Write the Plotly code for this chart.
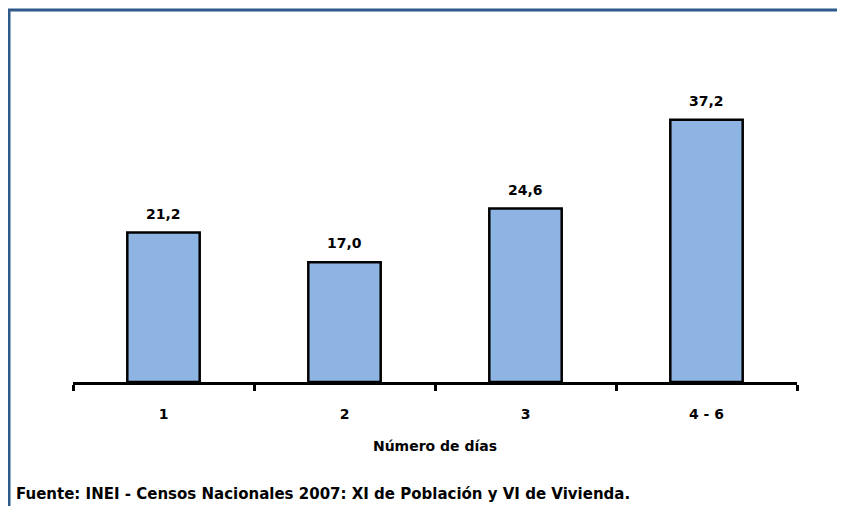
import plotly.graph_objects as go

# data
categories = ['1', '2', '3', '4 - 6']
values = [21.2, 17.0, 24.6, 37.2]
x_title = 'Número de días'
source = 'Fuente: INEI - Censos Nacionales 2007: XI de Población y VI de Vivienda.'

FONT = 'DejaVu Sans, Arial, sans-serif'
FRAME = '#2F5A8C'

# the page puts the figure 8px in from the top-left corner
OFF = 8
# target plot area in window pixels: x 73..797, y 100..382
W, H = 845, 506
L, T = 73 - OFF, 100 - OFF
pw, ph = 724, 282
R, B = W - L - pw, H - T - ph


def px(x):
    return (x - OFF - L) / pw


def py(y):
    return (T + ph - (y - OFF)) / ph


labels = [f'{v:.1f}'.replace('.', ',') for v in values]

fig = go.Figure(go.Bar(
    x=categories, y=values,
    marker=dict(color='#8EB4E3', line=dict(color='black', width=2.5)),
    hoverinfo='skip',
))

# value labels above the bars (category axis: position by index)
for i, (v, t) in enumerate(zip(values, labels)):
    fig.add_annotation(
        x=i, y=v, text=t, showarrow=False, yanchor='bottom', yshift=9,
        font=dict(family=FONT, size=14, color='black', weight='bold'),
    )

fig.update_layout(
    width=W, height=H,
    margin=dict(l=L, r=R, t=T, b=B),
    paper_bgcolor='white', plot_bgcolor='white',
    bargap=0.6, showlegend=False,
    font=dict(family=FONT, color='black'),
)
fig.update_xaxes(
    type='category', showline=True, linecolor='black', linewidth=2.5,
    ticks='outside', tickson='boundaries', ticklen=6, tickwidth=2.5, tickcolor='black',
    tickfont=dict(family=FONT, size=14, weight='bold'), ticklabelstandoff=17,
    title=dict(text=x_title, standoff=21, font=dict(family=FONT, size=14, weight='bold')),
    showgrid=False, zeroline=False,
)
fig.update_yaxes(range=[0, 40], visible=False, showgrid=False)

# frame: left and top border only
fig.add_shape(type='line', xref='paper', yref='paper',
              x0=px(9), x1=px(9), y0=py(9), y1=py(H + 10),
              line=dict(color=FRAME, width=3))
fig.add_shape(type='line', xref='paper', yref='paper',
              x0=px(8), x1=px(W + 10), y0=py(10), y1=py(10),
              line=dict(color=FRAME, width=3))

fig.add_annotation(
    text=source, xref='paper', yref='paper', x=px(14), y=py(494),
    xanchor='left', yanchor='middle', showarrow=False,
    font=dict(family=FONT, size=15, color='black', weight='bold'),
)

fig.write_html('out.html')
